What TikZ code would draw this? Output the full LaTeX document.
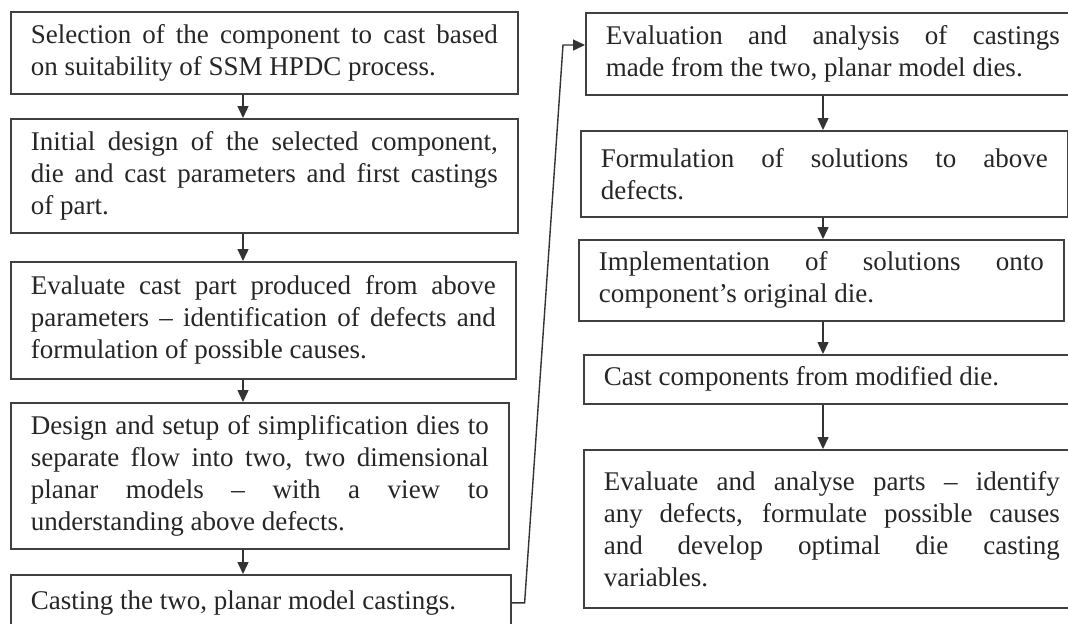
\documentclass[tikz,border=0pt]{standalone}
\usepackage{fontspec}
\setmainfont{Liberation Serif}
\usetikzlibrary{arrows.meta}
\hyphenpenalty=10000
\tolerance=9999

\begin{document}
\begin{tikzpicture}[x=0.5pt,y=-0.5pt,
  >={Triangle[length=6pt,width=5.5pt]},
  font=\fontsize{13.5}{16}\selectfont,
  stepbox/.style={draw=black!75,line width=0.8pt,anchor=north west,
    align=justify,inner xsep=10pt,inner ysep=3pt,text=black!85},
  flow/.style={->,black!80,line width=0.7pt}]
  \clip (0,0) rectangle (1068,623);
  \fill[white] (0,0) rectangle (1068,623);

  % Left column: from part selection to the planar model castings
  \node[stepbox,text width=233.5pt,minimum height=41pt] (select) at (10,11)
    {Selection of the component to cast based\linebreak
     on suitability of SSM HPDC process.};
  \node[stepbox,text width=233.5pt,minimum height=57pt] (design) at (10,118)
    {Initial design of the selected component,\linebreak
     die and cast parameters and first castings\linebreak
     of part.};
  \node[stepbox,text width=232.5pt,minimum height=58.5pt] (evalpart) at (10,261)
    {Evaluate cast part produced from above\linebreak
     parameters -- identification of defects and\linebreak
     formulation of possible causes.};
  \node[stepbox,text width=229pt,minimum height=73pt] (simplify) at (10,402)
    {Design and setup of simplification dies to\linebreak
     separate flow into two, two dimensional\linebreak
     planar models -- with a view to\linebreak
     understanding above defects.};
  \node[stepbox,text width=230pt,minimum height=28pt] (planar) at (10,574)
    {Casting the two, planar model castings.};

  % Right column: analysis and fixes on the original die
  \node[stepbox,text width=227pt,minimum height=41pt] (analysis) at (585,12)
    {Evaluation and analysis of castings\linebreak
     made from the two, planar model dies.};
  \node[stepbox,text width=223.5pt,minimum height=43pt] (solution) at (580,130)
    {Formulation of solutions to above\linebreak
     defects.};
  \node[stepbox,text width=222.5pt,minimum height=40.5pt] (implement) at (578,239)
    {Implementation of solutions onto\linebreak
     component's original die.};
  \node[stepbox,text width=228pt,minimum height=24.5pt] (recast) at (583,354)
    {Cast components from modified die.};
  \node[stepbox,text width=228pt,minimum height=79pt] (final) at (583,449)
    {Evaluate and analyse parts -- identify\linebreak
     any defects, formulate possible causes\linebreak
     and develop optimal die casting\linebreak
     variables.};

  % Arrows down each column
  \coordinate (lcol) at (243,0);
  \coordinate (rcol) at (823,0);
  \foreach \a/\b in {select/design,design/evalpart,evalpart/simplify,simplify/planar}
    \draw[flow] (\a.south -| lcol) -- (\b.north -| lcol);
  \foreach \a/\b in {analysis/solution,solution/implement,implement/recast,recast/final}
    \draw[flow] (\a.south -| rcol) -- (\b.north -| rcol);

  % Link from the bottom of the left column to the top of the right one
  \coordinate (bend) at (563,45);
  \draw[flow] (planar.east) -- ++(13,0) -- (bend) -- (bend -| analysis.west);
\end{tikzpicture}
\end{document}
